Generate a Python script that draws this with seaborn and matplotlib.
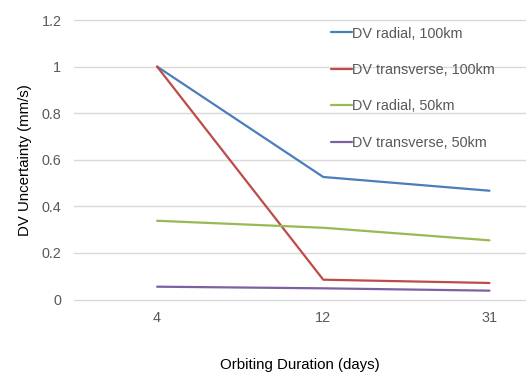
import pandas as pd
import matplotlib.pyplot as plt
import seaborn as sns

# Data
durations = ['4', '12', '31']
radial_100 = [1.0, 0.526, 0.467]
transverse_100 = [1.0, 0.085, 0.071]
radial_50 = [0.338, 0.308, 0.254]
transverse_50 = [0.055, 0.048, 0.038]

series_names = ['DV radial, 100km', 'DV transverse, 100km',
                'DV radial, 50km', 'DV transverse, 50km']
series_values = [radial_100, transverse_100, radial_50, transverse_50]
colors = ['#4A7EBB', '#BE4B48', '#98B954', '#7D60A0']

rows = []
for name, vals in zip(series_names, series_values):
    for i, v in enumerate(vals):
        rows.append({'pos': i, 'value': v, 'series': name})
df = pd.DataFrame(rows)

sns.set_style('white')
plt.rcParams['font.family'] = ['Liberation Sans', 'DejaVu Sans']

fig = plt.figure(figsize=(5.26, 3.74), dpi=100)
ax = fig.add_axes([74 / 526, 1 - 299.5 / 374, 1 - 74 / 526, (299.5 - 20) / 374])

sns.lineplot(data=df, x='pos', y='value', hue='series', hue_order=series_names,
             palette=colors, linewidth=1.6, ax=ax, legend=True)

ax.set_xlim(-0.5, 2.22)
ax.set_ylim(0, 1.2)
ax.set_xticks(range(len(durations)))
ax.set_xticklabels(durations)
ax.set_yticks([0, 0.2, 0.4, 0.6, 0.8, 1.0, 1.2])
ax.set_yticklabels(['0', '0.2', '0.4', '0.6', '0.8', '1', '1.2'])
ax.grid(axis='y', color='#D9D9D9', linewidth=1)
for gl in ax.get_ygridlines():
    gl.set_clip_on(False)
ax.set_axisbelow(True)
for s in ax.spines.values():
    s.set_visible(False)
ax.tick_params(axis='both', length=0, labelsize=10.4, colors='#595959')
ax.tick_params(axis='x', pad=8)
ax.tick_params(axis='y', pad=9)

ax.set_xlabel('Orbiting Duration (days)', fontsize=10.8, color='black', labelpad=24)
ax.set_ylabel('DV Uncertainty (mm/s)', fontsize=10.8, color='black', labelpad=7)

leg = ax.legend(loc='upper left', bbox_to_anchor=(0.555, 1.0), frameon=False,
                fontsize=10.4, handlelength=1.4, handletextpad=0.05,
                labelspacing=1.55, borderpad=0.45, borderaxespad=0)
for t in leg.get_texts():
    t.set_color('#595959')
for h in leg.get_lines():
    h.set_linewidth(1.6)

fig.savefig('out.png', dpi=100)
